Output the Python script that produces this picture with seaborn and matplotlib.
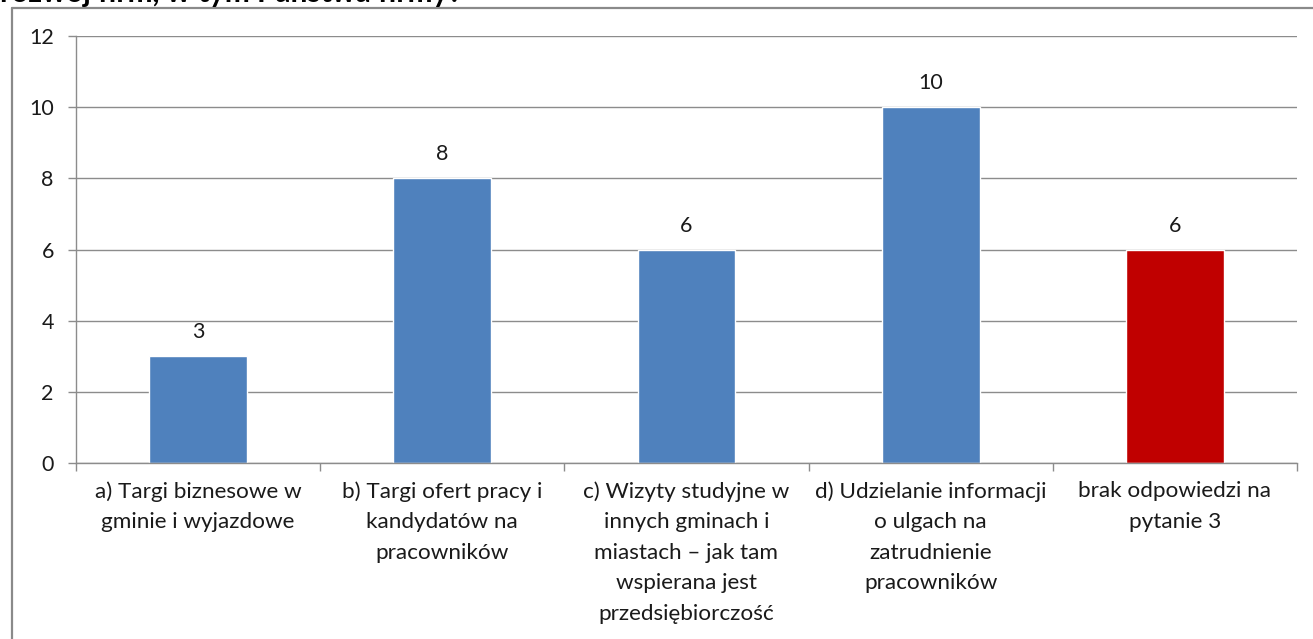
import matplotlib
matplotlib.use("Agg")
import matplotlib.pyplot as plt
from matplotlib.lines import Line2D
import seaborn as sns
import pandas as pd

categories = [
    "a) Targi biznesowe w\ngminie i wyjazdowe",
    "b) Targi ofert pracy i\nkandydatów na\npracowników",
    "c) Wizyty studyjne w\ninnych gminach i\nmiastach – jak tam\nwspierana jest\nprzedsiębiorczość",
    "d) Udzielanie informacji\no ulgach na\nzatrudnienie\npracowników",
    "brak odpowiedzi na\npytanie 3",
]
values = [3, 8, 6, 10, 6]
bar_colors = ["#4F81BD", "#4F81BD", "#4F81BD", "#4F81BD", "#C00000"]
y_ticks = [0, 2, 4, 6, 8, 10, 12]
title_text = "rozwój firm, w tym Państwa firmy?"

sns.set_theme(style="white")
plt.rcParams["font.family"] = ["Lato", "DejaVu Sans"]

FS = 15.5
TXT = "#1a1a1a"
W, H = 1313, 639
fig = plt.figure(figsize=(W / 100, H / 100), dpi=100)
ax = fig.add_axes([76 / W, 1 - 463 / H, (1297 - 76) / W, (463 - 36) / H])

df = pd.DataFrame({"cat": categories, "val": values})
sns.barplot(data=df, x="cat", y="val", hue="cat", palette=bar_colors,
            width=0.4, legend=False, ax=ax, saturation=1)

ax.set_xlim(-0.5, len(categories) - 0.5)
ax.set_ylim(0, 12)
ax.set_yticks(y_ticks)
ax.set_yticklabels([str(t) for t in y_ticks], fontsize=FS, color=TXT)
ax.set_xlabel("")
ax.set_ylabel("")
ax.grid(axis="y", color="#8c8c8c", linewidth=1.0)
ax.set_axisbelow(True)

for s in ["top", "right"]:
    ax.spines[s].set_visible(False)
for s in ["left", "bottom"]:
    ax.spines[s].set_color("#8c8c8c")
    ax.spines[s].set_linewidth(1.0)

ax.tick_params(axis="y", which="major", direction="out", length=6, width=1,
               color="#8c8c8c", pad=10, left=True)
ax.set_xticks(range(len(categories)))
ax.set_xticklabels(categories, fontsize=16.2, color=TXT, va="top",
                   linespacing=1.66)
ax.tick_params(axis="x", which="major", length=0, pad=13)
ax.set_xticks([i - 0.5 for i in range(len(categories) + 1)], minor=True)
ax.tick_params(axis="x", which="minor", direction="out", length=6, width=1,
               color="#8c8c8c", bottom=True)

for i, v in enumerate(values):
    ax.annotate(str(v), (i, v), xytext=(0, 10), textcoords="offset points",
                ha="center", va="bottom", fontsize=FS, color=TXT)

# chart frame
frame_c = "#8a8a8a"
fig.add_artist(Line2D([12 / W, 12 / W], [0, 1 - 8 / H], color=frame_c,
                      linewidth=1.6, transform=fig.transFigure))
fig.add_artist(Line2D([12 / W, 1], [1 - 8 / H, 1 - 8 / H], color=frame_c,
                      linewidth=1.6, transform=fig.transFigure))

fig.text(0.0, 1 - 2 / H, title_text, fontsize=21.5, fontweight="bold",
         ha="left", va="baseline", color="#000000")

fig.savefig("out.png", dpi=100)
